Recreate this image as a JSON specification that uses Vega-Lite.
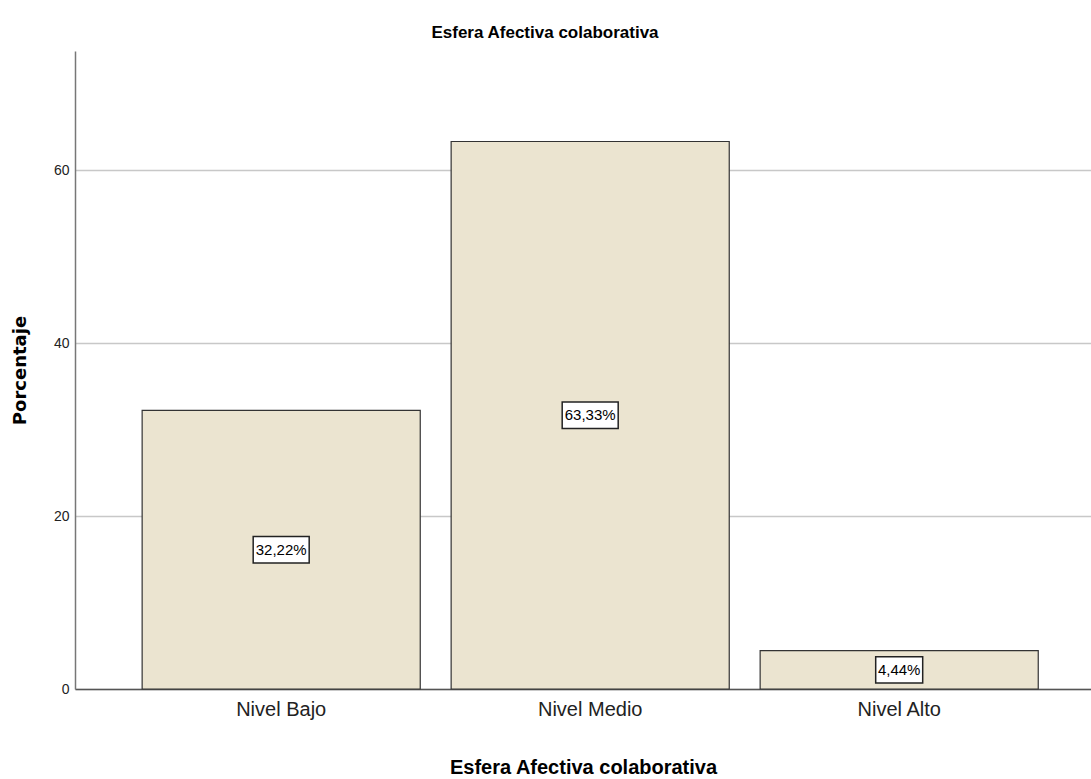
{
  "$schema": "https://vega.github.io/schema/vega-lite/v6.json",
  "autosize": "none",
  "width": 1016,
  "height": 638,
  "padding": {"left": 75, "top": 51, "right": 0, "bottom": 90},
  "background": "white",
  "title": {
    "text": "Esfera Afectiva colaborativa",
    "font": "Liberation Sans, Arial",
    "fontSize": 17,
    "fontWeight": "bold",
    "color": "#000000",
    "anchor": "middle",
    "dx": -38,
    "offset": 9
  },
  "data": {
    "values": [
      {"nivel": "Nivel Bajo", "porcentaje": 32.22, "etiqueta": "32,22%"},
      {"nivel": "Nivel Medio", "porcentaje": 63.33, "etiqueta": "63,33%"},
      {"nivel": "Nivel Alto", "porcentaje": 4.44, "etiqueta": "4,44%"}
    ]
  },
  "config": {
    "view": {"stroke": null},
    "font": "Liberation Sans, Arial"
  },
  "encoding": {
    "x": {
      "field": "nivel",
      "type": "nominal",
      "sort": null,
      "scale": {"paddingInner": 0.1, "paddingOuter": 0.194, "align": 0.56},
      "axis": {
        "title": "Esfera Afectiva colaborativa",
        "titleFontSize": 20,
        "titleFontWeight": "bold",
        "titleColor": "#000000",
        "titlePadding": 38,
        "labelAngle": 0,
        "labelFontSize": 20,
        "labelColor": "#222222",
        "labelPadding": 10,
        "ticks": false,
        "domainColor": "#555555",
        "domainWidth": 1.5
      }
    }
  },
  "layer": [
    {
      "mark": {"type": "bar", "fill": "#ebe4d0", "stroke": "#333333", "strokeWidth": 1.2},
      "encoding": {
        "y": {
          "field": "porcentaje",
          "type": "quantitative",
          "scale": {"domain": [0, 73.8], "nice": false},
          "axis": {
            "title": "Porcentaje",
            "titleFont": "DejaVu Sans",
            "titleFontSize": 18,
            "titleFontWeight": "bold",
            "titleColor": "#000000",
            "titlePadding": 24,
            "values": [0, 20, 40, 60],
            "labelFontSize": 14,
            "labelColor": "#222222",
            "labelPadding": 6,
            "ticks": false,
            "grid": true,
            "gridColor": "#c8c8c8",
            "gridWidth": 1.5,
            "domainColor": "#777777",
            "domainWidth": 1.5
          }
        }
      }
    },
    {
      "encoding": {
        "y": {
          "field": "porcentaje",
          "type": "quantitative",
          "scale": {"domain": [0, 147.6], "nice": false},
          "axis": null
        }
      },
      "layer": [
        {
          "transform": [{"filter": "length(datum.etiqueta) > 5"}],
          "mark": {
            "type": "point",
            "shape": "M-1,-0.47H1V0.47H-1Z",
            "size": 3136,
            "filled": true,
            "fill": "white",
            "stroke": "#222222",
            "strokeWidth": 1.5,
            "opacity": 1
          }
        },
        {
          "transform": [{"filter": "length(datum.etiqueta) <= 5"}],
          "mark": {
            "type": "point",
            "shape": "M-1,-0.56H1V0.56H-1Z",
            "size": 2209,
            "filled": true,
            "fill": "white",
            "stroke": "#222222",
            "strokeWidth": 1.5,
            "opacity": 1
          }
        },
        {
          "mark": {"type": "text", "fontSize": 15, "color": "#000000", "baseline": "middle"},
          "encoding": {
            "text": {"field": "etiqueta"}
          }
        }
      ]
    }
  ],
  "resolve": {"scale": {"y": "independent"}}
}
